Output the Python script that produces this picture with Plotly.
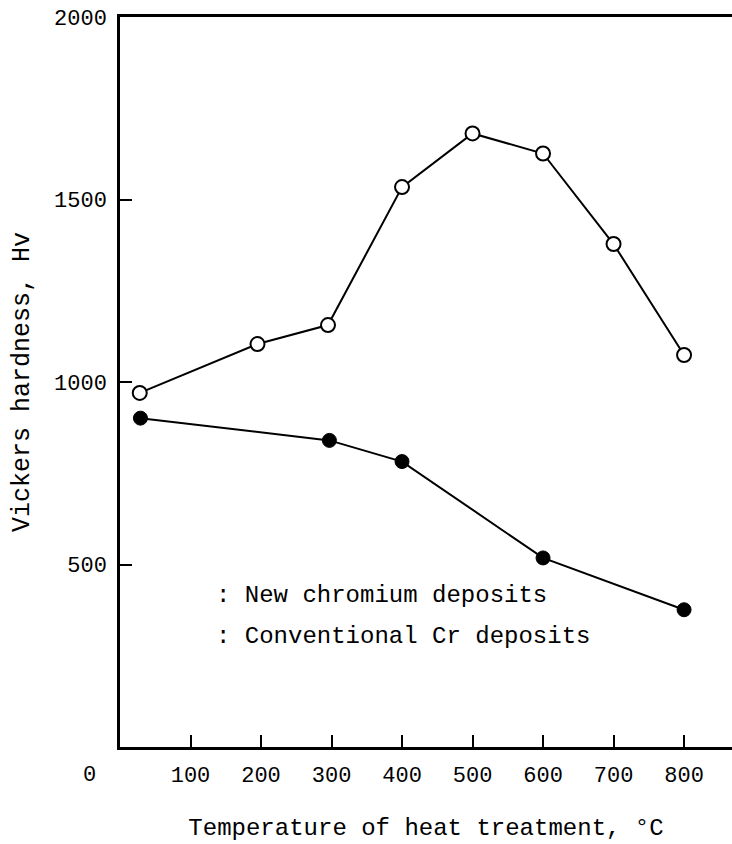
import plotly.graph_objects as go

# Heat-treatment temperature (°C) and Vickers hardness (Hv)
temp_new = [28, 195, 295, 400, 500, 600, 700, 800]
hv_new = [970, 1104, 1156, 1534, 1681, 1626, 1378, 1074]

temp_conv = [29, 297, 400, 600, 800]
hv_conv = [901, 840, 782, 518, 376]

x_ticks = [100, 200, 300, 400, 500, 600, 700, 800]
y_ticks = [500, 1000, 1500, 2000]

legend_lines = [": New chromium deposits", ": Conventional Cr deposits"]

FONT = "Liberation Mono, DejaVu Sans Mono, monospace"

fig = go.Figure()

fig.add_trace(go.Scatter(
    x=temp_new, y=hv_new, mode="lines+markers",
    line=dict(color="black", width=2),
    marker=dict(symbol="circle", size=14, color="white",
                line=dict(color="black", width=2)),
    showlegend=False,
))

fig.add_trace(go.Scatter(
    x=temp_conv, y=hv_conv, mode="lines+markers",
    line=dict(color="black", width=2),
    marker=dict(symbol="circle", size=14, color="black",
                line=dict(color="black", width=1)),
    showlegend=False,
))

# Key text inside the plot
for i, txt in enumerate(legend_lines):
    fig.add_annotation(
        x=133, y=[416, 302][i], xref="x", yref="y",
        text=txt, showarrow=False, xanchor="left", yanchor="middle",
        font=dict(family=FONT, size=24, color="black"),
    )

# Origin label at the corner
fig.add_annotation(
    x=0, y=0, xref="x", yref="y", text="0", showarrow=False,
    xshift=-31, yshift=-28, xanchor="center", yanchor="middle",
    font=dict(family=FONT, size=22, color="black"),
)

fig.update_xaxes(
    range=[0, 868], tickvals=x_ticks, ticktext=[str(v) for v in x_ticks],
    ticks="inside", ticklen=12, tickwidth=2, tickcolor="black",
    showline=True, linecolor="black", linewidth=2.5, mirror=True,
    showgrid=False, zeroline=False,
    tickfont=dict(family=FONT, size=22, color="black"),
    ticklabelstandoff=6,
    title=dict(text="Temperature of heat treatment, °C",
               font=dict(family=FONT, size=24, color="black"), standoff=31),
)

fig.update_yaxes(
    range=[0, 2000], tickvals=y_ticks, ticktext=[str(v) for v in y_ticks],
    ticks="inside", ticklen=12, tickwidth=2, tickcolor="black",
    showline=True, linecolor="black", linewidth=2.5, mirror=False,
    showgrid=False, zeroline=False,
    tickfont=dict(family=FONT, size=22, color="black"),
    ticklabelstandoff=6,
    title=dict(text="Vickers hardness, Hv",
               font=dict(family=FONT, size=25, color="black"), standoff=18),
)

fig.update_layout(
    width=732, height=844,
    margin=dict(l=120, r=0, t=17, b=97),
    paper_bgcolor="white", plot_bgcolor="white",
    font=dict(family=FONT, color="black"),
)

fig.write_html("out.html")
